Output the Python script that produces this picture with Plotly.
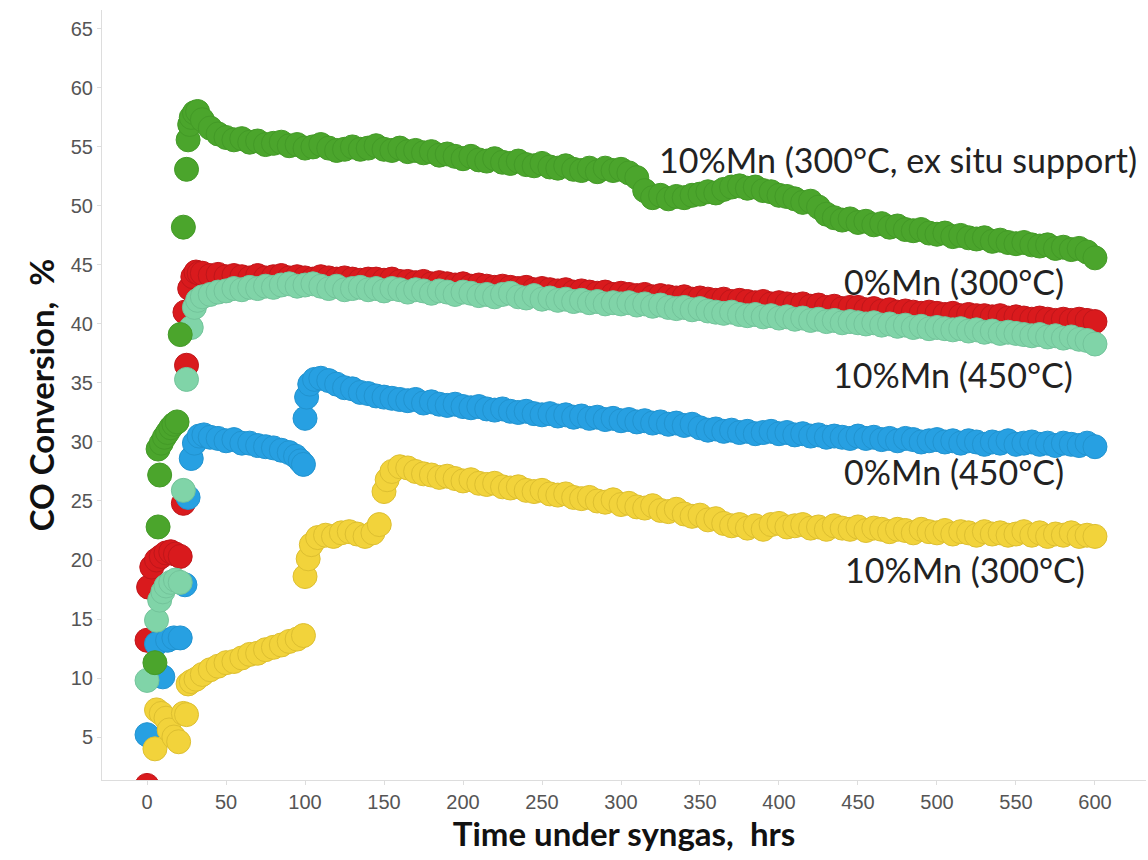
import plotly.graph_objects as go

# Shared logging times (hrs) for the long steady-state part of each run
GRID = [35, 40, 45, 50, 55, 60, 65, 70, 75, 80,
        85, 90, 95, 100, 105, 110, 115, 120, 125, 130,
        135, 140, 145, 150, 155, 160, 165, 170, 175, 180,
        185, 190, 195, 200, 205, 210, 215, 220, 225, 230,
        235, 240, 245, 250, 255, 260, 265, 270, 275, 280,
        285, 290, 295, 300, 305, 310, 315, 320, 325, 330,
        335, 340, 345, 350, 355, 360, 365, 370, 375, 380,
        385, 390, 395, 400, 405, 410, 415, 420, 425, 430,
        435, 440, 445, 450, 455, 460, 465, 470, 475, 480,
        485, 490, 495, 500, 505, 510, 515, 520, 525, 530,
        535, 540, 545, 550, 555, 560, 565, 570, 575, 580,
        585, 590, 595, 600]

# 10%Mn (300°C, ex situ support)
GREEN_T0 = [5, 7, 8, 7, 9, 11, 13, 15, 17, 19, 21, 23, 25, 26, 27, 28, 30, 32]
GREEN_V0 = [11.3, 22.8, 27.2, 29.4, 29.9, 30.4, 30.8, 31.2, 31.5, 31.7,
            39.1, 48.2, 53.1, 55.6, 56.9, 57.5, 57.9, 58.0]
GREEN_V = [57.3, 56.6, 56.1, 55.8, 55.6, 55.7, 55.4, 55.5, 55.2, 55.3,
           55.4, 55.1, 55.2, 54.9, 55.0, 55.2, 54.9, 54.7, 54.8, 55.0,
           54.8, 54.9, 55.1, 54.8, 54.7, 54.9, 54.6, 54.7, 54.5, 54.6,
           54.3, 54.4, 54.2, 54.0, 54.2, 53.9, 53.8, 54.0, 53.7, 53.6,
           53.8, 53.5, 53.4, 53.6, 53.3, 53.2, 53.4, 53.1, 53.0, 53.2,
           52.9, 53.2, 53.0, 53.1, 52.8, 52.4, 51.3, 50.7, 50.9, 50.6,
           50.8, 50.7, 50.9, 51.0, 51.2, 51.1, 51.4, 51.6, 51.7, 51.5,
           51.6, 51.3, 51.2, 50.9, 50.8, 50.6, 50.3, 50.4, 49.9, 49.3,
           49.0, 48.8, 48.9, 48.6, 48.7, 48.4, 48.5, 48.2, 48.3, 48.0,
           47.9, 48.0, 47.7, 47.6, 47.7, 47.4, 47.5, 47.3, 47.2, 47.3,
           47.0, 47.1, 46.9, 46.8, 46.9, 46.7, 46.6, 46.7, 46.4, 46.5,
           46.3, 46.4, 46.1, 45.6]

# 0%Mn (300°C)
RED_T0 = [0, 0, 1, 3, 6, 9, 12, 15, 18, 21, 23, 25, 24, 27, 29, 31, 33]
RED_V0 = [0.9, 13.2, 17.7, 19.4, 20.0, 20.3, 20.6, 20.7, 20.5, 20.3,
          24.8, 36.5, 41.0, 43.0, 44.0, 44.4, 44.3]
RED_V = [44.3, 44.1, 44.2, 44.0, 44.1, 44.0, 43.9, 44.1, 43.9, 44.0,
         44.1, 43.9, 44.0, 43.9, 43.8, 44.0, 43.9, 43.8, 43.9, 43.8,
         43.7, 43.8, 43.8, 43.7, 43.8, 43.6, 43.6, 43.5, 43.6, 43.4,
         43.5, 43.4, 43.3, 43.4, 43.2, 43.3, 43.2, 43.1, 43.2, 43.1,
         43.0, 43.1, 42.9, 43.0, 42.9, 42.8, 42.9, 42.7, 42.8, 42.7,
         42.6, 42.7, 42.5, 42.6, 42.5, 42.4, 42.5, 42.3, 42.4, 42.3,
         42.2, 42.3, 42.1, 42.2, 42.1, 42.0, 42.1, 41.9, 42.0, 41.9,
         41.8, 41.9, 41.7, 41.8, 41.7, 41.6, 41.7, 41.5, 41.6, 41.4,
         41.5, 41.3, 41.4, 41.4, 41.2, 41.3, 41.1, 41.2, 41.0, 41.1,
         41.0, 40.9, 41.0, 40.9, 40.8, 40.9, 40.7, 40.8, 40.7, 40.7,
         40.6, 40.7, 40.5, 40.6, 40.5, 40.4, 40.5, 40.4, 40.3, 40.4,
         40.3, 40.4, 40.3, 40.2]

# 10%Mn (450°C)
MINT_T0 = [0, 6, 8, 10, 12, 15, 18, 21, 23, 25, 28, 30, 32]
MINT_V0 = [9.8, 14.9, 16.6, 17.3, 17.8, 18.1, 18.3, 18.1, 25.9, 35.3, 39.7, 41.4, 42.0]
MINT_V = [42.3, 42.5, 42.7, 42.8, 43.0, 42.9, 43.1, 43.0, 43.2, 43.1,
          43.3, 43.4, 43.2, 43.3, 43.4, 43.2, 43.0, 43.2, 42.9, 43.0,
          43.1, 42.9, 43.0, 42.8, 43.0, 42.9, 42.7, 42.9, 42.8, 42.6,
          42.8, 42.7, 42.5, 42.7, 42.6, 42.4, 42.5, 42.3, 42.5, 42.6,
          42.3, 42.2, 42.4, 42.1, 42.2, 42.0, 42.1, 41.9, 42.0, 41.8,
          41.9, 41.7, 41.8, 41.7, 41.8, 41.6, 41.7, 41.5, 41.6, 41.4,
          41.3, 41.4, 41.2, 41.3, 41.1, 41.0, 40.9, 41.0, 40.8, 40.7,
          40.8, 40.6, 40.7, 40.5, 40.6, 40.4, 40.5, 40.3, 40.4, 40.2,
          40.3, 40.1, 40.2, 40.1, 40.0, 40.1, 39.9, 40.0, 39.8, 39.9,
          39.7, 39.8, 39.6, 39.7, 39.6, 39.5, 39.6, 39.4, 39.5, 39.3,
          39.4, 39.2, 39.3, 39.2, 39.1, 39.0, 39.1, 38.9, 39.0, 38.8,
          38.9, 38.7, 38.6, 38.3]

# 0%Mn (450°C): start-up, first plateau, then the run after ~100 h
BLUE_T0 = [0, 6, 10, 13, 17, 21, 24, 26, 28, 30,
           33, 36, 40, 45, 50, 55, 60, 65, 70, 75, 80, 85, 90, 94, 97, 99,
           100, 101, 103, 106, 110]
BLUE_V0 = [5.2, 12.9, 10.1, 13.2, 13.4, 13.4, 17.9, 25.3, 28.6, 29.9,
           30.5, 30.6, 30.4, 30.3, 30.1, 30.2, 29.9, 29.9, 29.7, 29.6, 29.5,
           29.3, 29.1, 28.8, 28.4, 28.1,
           32.0, 33.8, 34.9, 35.3, 35.4]
BLUE_GRID_FROM = 115
BLUE_V = [35.2, 34.9, 34.6, 34.5, 34.2, 34.1, 33.9, 33.8, 33.7, 33.6,
          33.5, 33.6, 33.3, 33.4, 33.2, 33.1, 33.2, 33.0, 32.9, 33.0,
          32.8, 32.7, 32.8, 32.6, 32.5, 32.6, 32.4, 32.3, 32.4, 32.2,
          32.3, 32.1, 32.2, 32.0, 32.1, 31.9, 32.0, 31.8, 31.9, 31.7,
          31.8, 31.6, 31.7, 31.5, 31.6, 31.4, 31.5, 31.2, 31.0, 31.1,
          30.9, 31.0, 30.8, 30.9, 30.7, 30.8, 30.9, 30.7, 30.8, 30.6,
          30.7, 30.5, 30.6, 30.4, 30.5, 30.4, 30.3, 30.5, 30.3, 30.4,
          30.2, 30.3, 30.1, 30.3, 30.2, 30.0, 30.1, 30.2, 30.0, 30.1,
          29.9, 30.1, 30.0, 29.8, 30.0, 29.9, 30.1, 29.8, 29.9, 30.0,
          29.8, 29.9, 29.7, 29.9, 29.8, 29.7, 29.9, 29.6]

# 10%Mn (300°C): stepwise rise before the long run
YELLOW_T0 = [5, 6, 9, 12, 14, 17, 20, 23, 25,
             26, 28, 31, 35, 40, 45, 50, 55, 60, 65, 70, 75, 80, 85, 90, 95, 99,
             100, 102, 104, 108, 113, 118, 123, 128, 133, 138, 143, 147,
             150, 152, 155, 160]
YELLOW_V0 = [4.0, 7.3, 7.0, 6.6, 5.6, 5.0, 4.6, 7.0, 6.9,
             9.5, 9.7, 9.9, 10.3, 10.7, 11.0, 11.3, 11.4, 11.7, 12.0, 12.1,
             12.4, 12.6, 12.8, 13.1, 13.3, 13.6,
             18.6, 20.1, 21.3, 21.9, 22.1, 22.0, 22.3, 22.4, 22.2, 22.0, 22.3, 23.0,
             25.8, 26.8, 27.5, 27.9]
YELLOW_GRID_FROM = 165
YELLOW_V = [27.8, 27.5, 27.3, 27.2, 27.0, 27.1, 26.9, 26.7, 26.8, 26.5,
            26.4, 26.5, 26.2, 26.1, 26.2, 25.9, 25.8, 25.9, 25.6, 25.5,
            25.6, 25.3, 25.2, 25.3, 25.0, 24.9, 25.1, 24.7, 24.8, 24.5,
            24.4, 24.6, 24.2, 24.1, 24.3, 23.9, 23.7, 23.8, 23.4, 23.5,
            23.1, 22.9, 23.0, 22.7, 22.9, 22.6, 23.0, 23.1, 22.8, 22.9,
            23.0, 22.7, 22.8, 22.6, 22.9, 22.7, 22.6, 22.8, 22.5, 22.7,
            22.6, 22.4, 22.6, 22.5, 22.3, 22.6, 22.4, 22.3, 22.5, 22.2,
            22.4, 22.3, 22.1, 22.4, 22.2, 22.3, 22.1, 22.2, 22.4, 22.1,
            22.3, 22.0, 22.2, 22.1, 22.3, 22.0, 22.1, 22.0]

LABELS = ["10%Mn (300°C, ex situ support)", "0%Mn (300°C)", "10%Mn (450°C)",
          "0%Mn (450°C)", "10%Mn (300°C)"]


def grid_from(t0):
    return [t for t in GRID if t >= t0]


series = [
    # (name, times, values, fill, outline) in drawing order
    (LABELS[1], RED_T0 + GRID, RED_V0 + RED_V, "#d91a1d", "#c0161a"),
    (LABELS[3], BLUE_T0 + grid_from(BLUE_GRID_FROM), BLUE_V0 + BLUE_V, "#27a0e2", "#2193d0"),
    (LABELS[2], MINT_T0 + GRID, MINT_V0 + MINT_V, "#80d4a8", "#73c49b"),
    (LABELS[0], GREEN_T0 + GRID, GREEN_V0 + GREEN_V, "#4ba52c", "#439a27"),
    (LABELS[4], YELLOW_T0 + grid_from(YELLOW_GRID_FROM), YELLOW_V0 + YELLOW_V, "#f2d33b", "#ddbf30"),
]

fig = go.Figure()
for name, tt, vv, fill, edge in series:
    fig.add_trace(go.Scatter(
        x=tt, y=vv, mode="markers", name=name,
        marker=dict(size=24, color=fill, line=dict(color=edge, width=1)),
        cliponaxis=True,
    ))

label_font = dict(family="Lato, Open Sans, sans-serif", size=34, color="#222222")
label_pos = [
    (LABELS[0], 628, 53.9, "right"),
    (LABELS[1], 511, 43.6, "center"),
    (LABELS[2], 510, 35.7, "center"),
    (LABELS[3], 511, 27.5, "center"),
    (LABELS[4], 518, 19.2, "center"),
]
for text, lx, ly, anchor in label_pos:
    fig.add_annotation(x=lx, y=ly, xref="x", yref="y", text=text, showarrow=False,
                       xanchor=anchor, yanchor="middle", font=label_font)

tick_font = dict(family="Liberation Sans, Arial, sans-serif", size=20, color="#555555")
title_font = dict(family="Lato, Open Sans, sans-serif", size=33, color="#111111")

fig.update_layout(
    width=1148, height=860,
    margin=dict(l=102, r=2, t=10, b=80),
    paper_bgcolor="white", plot_bgcolor="white",
    showlegend=False,
)
fig.update_xaxes(
    range=[-28.5, 632.3], tickmode="array", tickvals=list(range(0, 601, 50)),
    showgrid=False, zeroline=False, showline=True, linecolor="#dddddd", linewidth=1,
    ticks="outside", ticklen=4, tickcolor="#dddddd", tickfont=tick_font,
    title=dict(text="<b>Time under syngas,\u00a0 hrs</b>", font=title_font, standoff=8),
)
fig.update_yaxes(
    range=[1.36, 66.6], tickmode="array", tickvals=list(range(5, 66, 5)),
    showgrid=False, zeroline=False, showline=True, linecolor="#dddddd", linewidth=1,
    ticks="outside", ticklen=4, tickcolor="#dddddd", tickfont=tick_font,
    title=dict(text="<b>CO Conversion,\u00a0 %</b>", font=title_font, standoff=6),
)

fig.write_html("out.html")
